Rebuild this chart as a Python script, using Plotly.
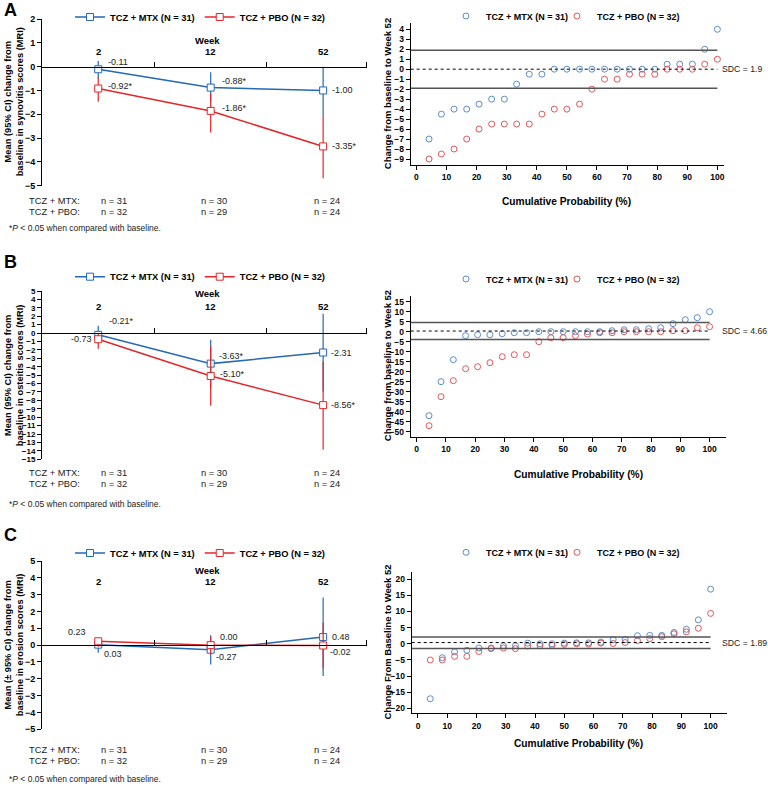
import plotly.graph_objects as go

W, H = 768, 786

# ---------------- data ----------------
weeks = ["2", "12", "52"]
grp_mtx = "TCZ + MTX (N = 31)"
grp_pbo = "TCZ + PBO (N = 32)"
n_mtx = ["n = 31", "n = 30", "n = 24"]
n_pbo = ["n = 32", "n = 29", "n = 24"]

# Panel A: synovitis (mean, CI upper, CI lower, significance)
syn_mtx = [-0.11, -0.88, -1.00]
syn_mtx_hi = [0.24, -0.24, 0.00]
syn_mtx_lo = [-0.49, -1.47, -2.03]
syn_mtx_sig = [False, True, False]
syn_pbo = [-0.92, -1.86, -3.35]
syn_pbo_hi = [-0.45, -1.12, -2.03]
syn_pbo_lo = [-1.47, -2.77, -4.69]
syn_pbo_sig = [True, True, True]

# Panel B: osteitis
ost_mtx = [-0.21, -3.63, -2.31]
ost_mtx_hi = [0.87, -0.79, 2.30]
ost_mtx_lo = [-1.20, -6.50, -6.93]
ost_mtx_sig = [True, True, False]
ost_pbo = [-0.73, -5.10, -8.56]
ost_pbo_hi = [0.00, -1.58, -3.37]
ost_pbo_lo = [-1.86, -8.63, -13.86]
ost_pbo_sig = [False, True, True]

# Panel C: erosion
ero_mtx = [0.03, -0.27, 0.48]
ero_mtx_hi = [0.30, 0.59, 2.83]
ero_mtx_lo = [-0.45, -1.15, -1.84]
ero_mtx_sig = [False, False, False]
ero_pbo = [0.23, 0.00, -0.02]
ero_pbo_hi = [0.44, 0.50, 1.33]
ero_pbo_lo = [-0.10, -0.55, -1.39]
ero_pbo_sig = [False, False, False]

# Cumulative probability plots (change from baseline to week 52)
cum_prob = [4.2, 8.3, 12.5, 16.7, 20.8, 25.0, 29.2, 33.3, 37.5, 41.7, 45.8, 50.0,
            54.2, 58.3, 62.5, 66.7, 70.8, 75.0, 79.2, 83.3, 87.5, 91.7, 95.8, 100.0]
cpA_mtx = [-7, -4.5, -4, -4, -3.5, -3, -3, -1.5, -0.5, -0.5, 0, 0,
           0, 0, 0, 0, 0, 0, 0, 0.5, 0.5, 0.5, 2, 4]
cpA_pbo = [-9, -8.5, -8, -7, -6, -5.5, -5.5, -5.5, -5.5, -4.5, -4, -4,
           -3.5, -2, -1, -1, -0.5, -0.5, -0.5, 0, 0, 0, 0.5, 1]
cpB_mtx = [-42, -25, -14, -2, -1.5, -1.5, -1, -0.5, -0.5, 0, 0, 0,
           0, 0, 0, 0.5, 1, 1, 1.5, 2, 4, 6, 7, 10]
cpB_pbo = [-47, -32.5, -24.5, -18.5, -17.5, -15.5, -12.5, -11.5, -11.5, -5, -3, -3,
           -2, -1.2, -0.5, -0.5, 0, 0, 0, 0, 0.5, 0.5, 2, 2.5]
cpC_mtx = [-17, -4.3, -2.5, -2, -1.3, -1.3, -0.6, -0.6, 0.2, 0, 0, 0.2,
           0.3, 0.3, 0.5, 1.3, 1.3, 2.5, 2.6, 2.6, 3.5, 4.5, 7.4, 16.9]
cpC_pbo = [-5, -5, -3.9, -3.9, -2.4, -1.5, -1.3, -1.5, -0.7, -0.6, -0.5, -0.2,
           0, -0.1, 0.2, 0.1, 0.4, 1, 1.6, 2.2, 3.1, 3.7, 4.8, 9.4]
# SDC band lines (upper, centre, lower) and labels
sdcA = [1.9, 0.0, -1.9]
sdcB = [4.66, 0.33, -3.85]
sdcC = [2.1, 0.38, -1.45]
sdc_labels = ["SDC = 1.9", "SDC = 4.66", "SDC = 1.89"]

# ---------------- styling ----------------
FONT = "Liberation Sans, Arial, sans-serif"
BLUE = "#2369b3"
RED = "#e3262a"
BLUE_PT = "#5b8dc9"
RED_PT = "#e0585a"


def px_x(p):
    return p / W


def px_y(p):
    return 1 - p / H


fig = go.Figure()

left_specs = [
    dict(ax="", ypx=(19, 185.7), yr=(-5, 2), tfs=9,
         mtx=(syn_mtx, syn_mtx_hi, syn_mtx_lo, syn_mtx_sig),
         pbo=(syn_pbo, syn_pbo_hi, syn_pbo_lo, syn_pbo_sig),
         leg="legend", legy=17, weeky=40.7, laby=51.7,
         ytitle="Mean (95% CI) change from<br>baseline in synovitis scores (MRI)",
         off_mtx=[(8, 7, "left"), (9, 7, "left"), (7, 0, "left")],
         off_pbo=[(8, 3, "left"), (9, 3, "left"), (7, 0, "left")],
         nrow=(201.5, 212.5), foot=228, letter="A", lety=10),
    dict(ax="3", ypx=(291, 459.3), yr=(-15, 5), tfs=8,
         mtx=(ost_mtx, ost_mtx_hi, ost_mtx_lo, ost_mtx_sig),
         pbo=(ost_pbo, ost_pbo_hi, ost_pbo_lo, ost_pbo_sig),
         leg="legend3", legy=276.7, weeky=293.3, laby=306,
         ytitle="Mean (95% CI) change from<br>baseline in osteitis scores (MRI)",
         off_mtx=[(9, 14, "left"), (6, 8, "left"), (6, 0, "left")],
         off_pbo=[(-4, 0, "right"), (7, 2, "left"), (6, 0, "left")],
         nrow=(472.7, 484.3), foot=504, letter="B", lety=262),
    dict(ax="5", ypx=(561, 729.3), yr=(-5, 5), tfs=9,
         mtx=(ero_mtx, ero_mtx_hi, ero_mtx_lo, ero_mtx_sig),
         pbo=(ero_pbo, ero_pbo_hi, ero_pbo_lo, ero_pbo_sig),
         leg="legend5", legy=553, weeky=570.7, laby=581.7,
         ytitle="Mean (± 95% CI) change from<br>baseline in erosion scores (MRI)",
         off_mtx=[(4, -9, "left"), (3, -7, "left"), (7, 0, "left")],
         off_pbo=[(-10, 9, "right"), (7, 8, "left"), (5, -7, "left")],
         nrow=(750, 761), foot=779, letter="C", lety=535),
]

right_specs = [
    dict(ax="2", xpx=(410.7, 724), xr=(-1.9, 102.2), ypx=(23.3, 165), yr=(-9.6, 4.6),
         dt=1, mtx=cpA_mtx, pbo=cpA_pbo, sdc=sdcA, lab=sdc_labels[0], leg="legend2", legy=16,
         ytitle="Change from baseline to Week 52", xt=201, xtx=566),
    dict(ax="4", xpx=(410.7, 725.7), xr=(-2.05, 105.5), ypx=(295.7, 436.7), yr=(-52.5, 18),
         dt=5, mtx=cpB_mtx, pbo=cpB_pbo, sdc=sdcB, lab=sdc_labels[1], leg="legend4", legy=279,
         ytitle="Change from baseline to Week 52", xt=474, xtx=578),
    dict(ax="6", xpx=(411.7, 727.3), xr=(-2.15, 105.7), ypx=(571.7, 713.3), yr=(-21.5, 22.3),
         dt=5, mtx=cpC_mtx, pbo=cpC_pbo, sdc=sdcC, lab=sdc_labels[2], leg="legend6", legy=552.3,
         ytitle="Change From Baseline to Week 52", xt=743.3, xtx=578),
]

annotations = []
shapes = []
layout = {}
xcat = [0, 1, 2]
XR_LEFT = (-0.5, 2.39)

for s in left_specs:
    ax = s["ax"]
    xname = "x" + ax
    yname = "y" + ax
    for (vals, hi, lo, sig), name, color, offs in [
        (s["mtx"], grp_mtx, BLUE, s["off_mtx"]),
        (s["pbo"], grp_pbo, RED, s["off_pbo"]),
    ]:
        fig.add_trace(go.Scatter(
            x=xcat, y=vals, mode="lines+markers", name="<b>" + name + "</b>",
            line=dict(color=color, width=1.5),
            marker=dict(symbol="square", size=7, color="white", line=dict(color=color, width=1)),
            error_y=dict(type="data", symmetric=False,
                         array=[h - v for h, v in zip(hi, vals)],
                         arrayminus=[v - l for v, l in zip(vals, lo)],
                         color=color, thickness=1.2, width=0),
            xaxis=xname, yaxis=yname, legend=s["leg"], cliponaxis=False,
        ))
        for xi, v, sg, (xs, ys, anc) in zip(xcat, vals, sig, offs):
            annotations.append(dict(
                x=xi, y=v, xref=xname, yref=yname, text=f"{v:.2f}" + ("*" if sg else ""),
                showarrow=False, xanchor=anc, yanchor="middle", xshift=xs, yshift=ys,
                font=dict(size=9, family=FONT, color="#222")))
    ytop, ybot = s["ypx"]
    y0p, y1p = px_y(ybot), px_y(ytop)
    zero_pos = y0p + (0 - s["yr"][0]) / (s["yr"][1] - s["yr"][0]) * (y1p - y0p)
    layout["xaxis" + ax] = dict(
        domain=[px_x(42), px_x(367)], range=list(XR_LEFT), anchor="free", position=zero_pos,
        side="top", showline=True, linecolor="black", linewidth=1, zeroline=False, showgrid=False,
        tickmode="array", tickvals=xcat, showticklabels=False, ticks="",
        minor=dict(tickmode="array", tickvals=[0.5, 1.5, 2.385], ticks="outside",
                   ticklen=5, tickcolor="black", tickwidth=1, showgrid=False),
    )
    layout["yaxis" + ax] = dict(
        domain=[y0p, y1p], range=list(s["yr"]), anchor=xname, showline=True, linecolor="black",
        linewidth=1, zeroline=False, showgrid=False, tickmode="linear", tick0=0, dtick=1,
        ticks="outside", ticklen=4, tickcolor="black",
        tickfont=dict(size=s["tfs"], family=FONT, color="black"), tickprefix="<b>", ticksuffix="</b>",
    )
    annotations.append(dict(x=1, y=px_y(s["weeky"]), xref=xname, yref="paper", text="<b>Week</b>",
                            showarrow=False, xanchor="center", yanchor="middle", xshift=-3,
                            font=dict(size=9.5, family=FONT, color="black")))
    for xi, wk in zip(xcat, weeks):
        annotations.append(dict(x=xi, y=px_y(s["laby"]), xref=xname, yref="paper",
                                text="<b>" + wk + "</b>", showarrow=False, xanchor="center",
                                yanchor="middle", font=dict(size=9.5, family=FONT, color="black")))
    annotations.append(dict(x=px_x(14), y=px_y((ytop + ybot) / 2), xref="paper", yref="paper",
                            text="<b>" + s["ytitle"] + "</b>", textangle=-90, showarrow=False,
                            font=dict(size=9.3, family=FONT, color="black"),
                            xanchor="center", yanchor="middle"))
    annotations.append(dict(x=px_x(2), y=px_y(s["lety"]), xref="paper", yref="paper",
                            text="<b>" + s["letter"] + "</b>", showarrow=False, xanchor="left",
                            yanchor="middle", font=dict(size=18, family=FONT, color="black")))
    for rowy, lab, ns in [(s["nrow"][0], "TCZ + MTX:", n_mtx), (s["nrow"][1], "TCZ + PBO:", n_pbo)]:
        annotations.append(dict(x=px_x(27), y=px_y(rowy), xref="paper", yref="paper", text=lab,
                                showarrow=False, xanchor="left", yanchor="middle",
                                font=dict(size=9.3, family=FONT, color="#222")))
        for xi, nt, xs in zip(xcat, ns, [1, -12, -11]):
            annotations.append(dict(x=xi, y=px_y(rowy), xref=xname, yref="paper", text=nt,
                                    showarrow=False, xanchor="left", yanchor="middle", xshift=xs,
                                    font=dict(size=9.3, family=FONT, color="#222")))
    annotations.append(dict(x=px_x(7), y=px_y(s["foot"]), xref="paper", yref="paper",
                            text="*<i>P</i> < 0.05 when compared with baseline.", showarrow=False,
                            xanchor="left", yanchor="middle",
                            font=dict(size=8.5, family=FONT, color="#222")))
    layout[s["leg"]] = dict(x=px_x(70), y=px_y(s["legy"]), xanchor="left", yanchor="middle",
                            orientation="h", bgcolor="rgba(0,0,0,0)", itemwidth=30,
                            font=dict(size=9.3, family=FONT, color="black"))

for s in right_specs:
    ax = s["ax"]
    xname = "x" + ax
    yname = "y" + ax
    for vals, name, color, lw in [(s["mtx"], grp_mtx, BLUE_PT, 66), (s["pbo"], grp_pbo, RED_PT, 95)]:
        fig.add_trace(go.Scatter(
            x=cum_prob, y=vals, mode="markers", name="<b>" + name + "</b>",
            marker=dict(symbol="circle-open", size=6, color=color, line=dict(width=1)),
            xaxis=xname, yaxis=yname, legend=s["leg"], legendwidth=lw, cliponaxis=False,
        ))
    ytop, ybot = s["ypx"]
    layout["xaxis" + ax] = dict(
        domain=[px_x(s["xpx"][0]), px_x(s["xpx"][1])], range=list(s["xr"]), anchor=yname,
        showline=True, linecolor="black", linewidth=1, zeroline=False, showgrid=False,
        tickmode="linear", tick0=0, dtick=10, ticks="outside", ticklen=4, tickcolor="black",
        tickfont=dict(size=8.5, family=FONT, color="black"), tickprefix="<b>", ticksuffix="</b>",
    )
    layout["yaxis" + ax] = dict(
        domain=[px_y(ybot), px_y(ytop)], range=list(s["yr"]), anchor=xname,
        showline=True, linecolor="black", linewidth=1, zeroline=False, showgrid=False,
        tickmode="linear", tick0=0, dtick=s["dt"], ticks="outside", ticklen=4, tickcolor="black",
        tickfont=dict(size=8.5, family=FONT, color="black"), tickprefix="<b>", ticksuffix="</b>",
    )
    for k, val in enumerate(s["sdc"]):
        shapes.append(dict(type="line", xref=xname, yref=yname, x0=s["xr"][0], x1=100,
                           y0=val, y1=val,
                           line=dict(color="black" if k == 1 else "#555",
                                     width=1 if k == 1 else 1.5,
                                     dash="dot" if k == 1 else "solid")))
    annotations.append(dict(x=px_x(720), y=s["sdc"][1], xref="paper", yref=yname,
                            text=s["lab"], showarrow=False, xanchor="left", yanchor="middle",
                            font=dict(size=8.7, family=FONT, color="#222")))
    annotations.append(dict(x=px_x(s["xtx"]), y=px_y(s["xt"]), xref="paper", yref="paper",
                            text="<b>Cumulative Probability (%)</b>", showarrow=False,
                            xanchor="center", yanchor="middle",
                            font=dict(size=10.2, family=FONT, color="black")))
    annotations.append(dict(x=px_x(387), y=px_y((ytop + ybot) / 2), xref="paper", yref="paper",
                            text="<b>" + s["ytitle"] + "</b>", textangle=-90, showarrow=False,
                            xanchor="center", yanchor="middle",
                            font=dict(size=9.5, family=FONT, color="black")))
    layout[s["leg"]] = dict(x=px_x(446), y=px_y(s["legy"]), xanchor="left", yanchor="middle",
                            orientation="h", bgcolor="rgba(0,0,0,0)", itemwidth=30,
                            font=dict(size=9, family=FONT, color="black"))

fig.update_layout(
    width=W, height=H, margin=dict(l=0, r=0, t=0, b=0, autoexpand=False),
    paper_bgcolor="white", plot_bgcolor="white",
    font=dict(family=FONT, color="black"), showlegend=True,
    annotations=annotations, shapes=shapes, **layout,
)

fig.write_html("out.html", config={"displayModeBar": False},
               post_script="document.body.style.margin='0';")
